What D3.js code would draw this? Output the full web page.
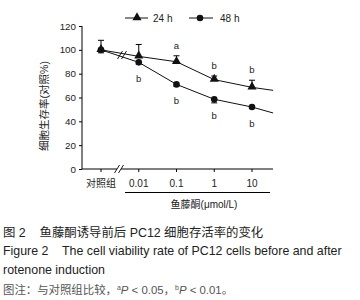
<!DOCTYPE html>
<html>
<head>
<meta charset="utf-8">
<script src="https://cdn.jsdelivr.net/npm/d3@7"></script>
<style>
body{margin:0;background:#fff;}
text{font-family:"Liberation Sans",Arial,"Noto Sans CJK SC",sans-serif;fill:#222;}
</style>
</head>
<body>
<div id="chart"></div>
<script>
// x categories (index positions on the axis)
const groups = ["对照组", "0.01", "0.1", "1", "10"];
const yTicks = [0, 20, 40, 60, 80, 100, 120];

const v24 = [100, 94.5, 90, 75, 68.5];
const err24 = [8, 10, 5, 3, 6];      // drawn upward
const sig24 = ["", "", "a", "b", "b"];

const v48 = [100, 89.5, 71, 58.5, 52];
const err48 = [2.5, 1.5, 1.5, 3, 1]; // drawn downward
const sig48 = ["", "b", "b", "b", "b"];

// line continues past the last dose to the axis end
const tailIdx = 4.56;
const tail24 = 66;
const tail48 = 47;

const width = 360, height = 300;
const svg = d3.select("#chart").append("svg")
  .attr("width", width).attr("height", height);

const x = d3.scaleLinear().domain([0, 4]).range([101, 252]);
const y = d3.scaleLinear().domain([0, 120]).range([169, 26]);
const x0 = 82, xEnd = 273;

// y axis
svg.append("g")
  .attr("transform", "translate(" + x0 + ",0)")
  .call(d3.axisLeft(y).tickValues(yTicks).tickSize(3).tickPadding(3))
  .call(g => g.select(".domain").attr("d", "M0," + y(120) + "V" + y(0)))
  .selectAll("text").style("font-size", "9.8px").style("font-family", "Liberation Sans, Arial");

// x axis baseline
svg.append("line").attr("x1", x0).attr("x2", xEnd).attr("y1", y(0)).attr("y2", y(0))
  .attr("stroke", "#000").attr("stroke-width", 1);
const xt = svg.append("g");
groups.forEach((d, i) => {
  xt.append("line").attr("x1", x(i)).attr("x2", x(i)).attr("y1", y(0)).attr("y2", y(0) + 3)
    .attr("stroke", "#000");
  xt.append("text").text(d).attr("x", x(i)).attr("y", 186.5)
    .attr("text-anchor", "middle").style("font-size", "10px");
});
svg.selectAll(".domain, .tick line").attr("stroke", "#000");

// axis break on x axis
const brk = 119;
svg.append("rect").attr("x", brk - 2).attr("y", y(0) - 1).attr("width", 4).attr("height", 2).attr("fill", "#fff");
[-2, 2].forEach(o => {
  svg.append("line").attr("x1", brk + o - 2.5).attr("y1", y(0) + 4).attr("x2", brk + o + 2.5).attr("y2", y(0) - 4)
    .attr("stroke", "#000").attr("stroke-width", 0.9);
});

// dose underline + axis title
svg.append("line").attr("x1", 125).attr("x2", 270).attr("y1", 192.5).attr("y2", 192.5).attr("stroke", "#000");
svg.append("text").text("鱼藤酮(μmol/L)").attr("x", 204).attr("y", 208)
  .attr("text-anchor", "middle").style("font-size", "10px");

// y title
svg.append("text").text("细胞生存率(对照%)")
  .attr("transform", "translate(48,106) rotate(-90)")
  .attr("text-anchor", "middle").style("font-size", "10.5px");

// series lines
const line = d3.line().x(d => x(d[0])).y(d => y(d[1]));
const pts24 = v24.map((v, i) => [i, v]).concat([[tailIdx, tail24]]);
const pts48 = v48.map((v, i) => [i, v]).concat([[tailIdx, tail48]]);
[pts24, pts48].forEach(p => {
  svg.append("path").attr("d", line(p)).attr("fill", "none").attr("stroke", "#111").attr("stroke-width", 1);
});

// break marks on the lines
[-2, 2].forEach(o => {
  svg.append("line").attr("x1", brk + 3 + o - 2.5).attr("y1", 59).attr("x2", brk + 3 + o + 2.5).attr("y2", 51)
    .attr("stroke", "#000").attr("stroke-width", 0.9);
});

// error bars
function errBar(i, v, e, dir) {
  const ye = y(v + dir * e);
  svg.append("line").attr("x1", x(i)).attr("x2", x(i)).attr("y1", y(v)).attr("y2", ye).attr("stroke", "#000");
  svg.append("line").attr("x1", x(i) - 3).attr("x2", x(i) + 3).attr("y1", ye).attr("y2", ye).attr("stroke", "#000");
}
v24.forEach((v, i) => errBar(i, v, err24[i], 1));
v48.forEach((v, i) => errBar(i, v, err48[i], -1));

// markers
const tri = d3.symbol().type(d3.symbolTriangle).size(36);
v24.forEach((v, i) => {
  svg.append("path").attr("d", tri()).attr("transform", "translate(" + x(i) + "," + (y(v) - 0.5) + ")").attr("fill", "#111");
});
v48.forEach((v, i) => {
  svg.append("circle").attr("cx", x(i)).attr("cy", y(v)).attr("r", 3.3).attr("fill", "#111");
});

// significance letters
sig24.forEach((s, i) => {
  if (s) svg.append("text").text(s).attr("x", x(i)).attr("y", y(v24[i] + err24[i]) - 7)
    .attr("text-anchor", "middle").style("font-size", "9.5px");
});
sig48.forEach((s, i) => {
  if (s) svg.append("text").text(s).attr("x", x(i)).attr("y", y(v48[i]) + 20)
    .attr("text-anchor", "middle").style("font-size", "9.5px");
});

// legend
svg.append("line").attr("x1", 125).attr("x2", 148).attr("y1", 18).attr("y2", 18).attr("stroke", "#111");
svg.append("path").attr("d", tri()).attr("transform", "translate(137,17.5)").attr("fill", "#111");
svg.append("text").text("24 h").attr("x", 153).attr("y", 21.5).style("font-size", "10px");
svg.append("line").attr("x1", 189).attr("x2", 213).attr("y1", 18).attr("y2", 18).attr("stroke", "#111");
svg.append("circle").attr("cx", 200).attr("cy", 18).attr("r", 3.3).attr("fill", "#111");
svg.append("text").text("48 h").attr("x", 220).attr("y", 21.5).style("font-size", "10px");

// caption
const cap = svg.append("g").style("font-size", "12.4px");
cap.append("text").attr("x", 3).attr("y", 237).attr("xml:space", "preserve").text("图 2    鱼藤酮诱导前后 PC12 细胞存活率的变化");
cap.append("text").attr("x", 3).attr("y", 255).attr("xml:space", "preserve").text("Figure 2    The cell viability rate of PC12 cells before and after");
cap.append("text").attr("x", 3).attr("y", 274).text("rotenone induction");
const note = cap.append("text").attr("x", 3).attr("y", 294).style("fill", "#555").style("font-size", "11.4px");
note.append("tspan").text("图注：与对照组比较，");
note.append("tspan").text("a").attr("dy", -4).style("font-size", "7px");
note.append("tspan").text("P").attr("dy", 4).style("font-style", "italic");
note.append("tspan").text(" < 0.05，");
note.append("tspan").text("b").attr("dy", -4).style("font-size", "7px");
note.append("tspan").text("P").attr("dy", 4).style("font-style", "italic");
note.append("tspan").text(" < 0.01。");
</script>
</body>
</html>
